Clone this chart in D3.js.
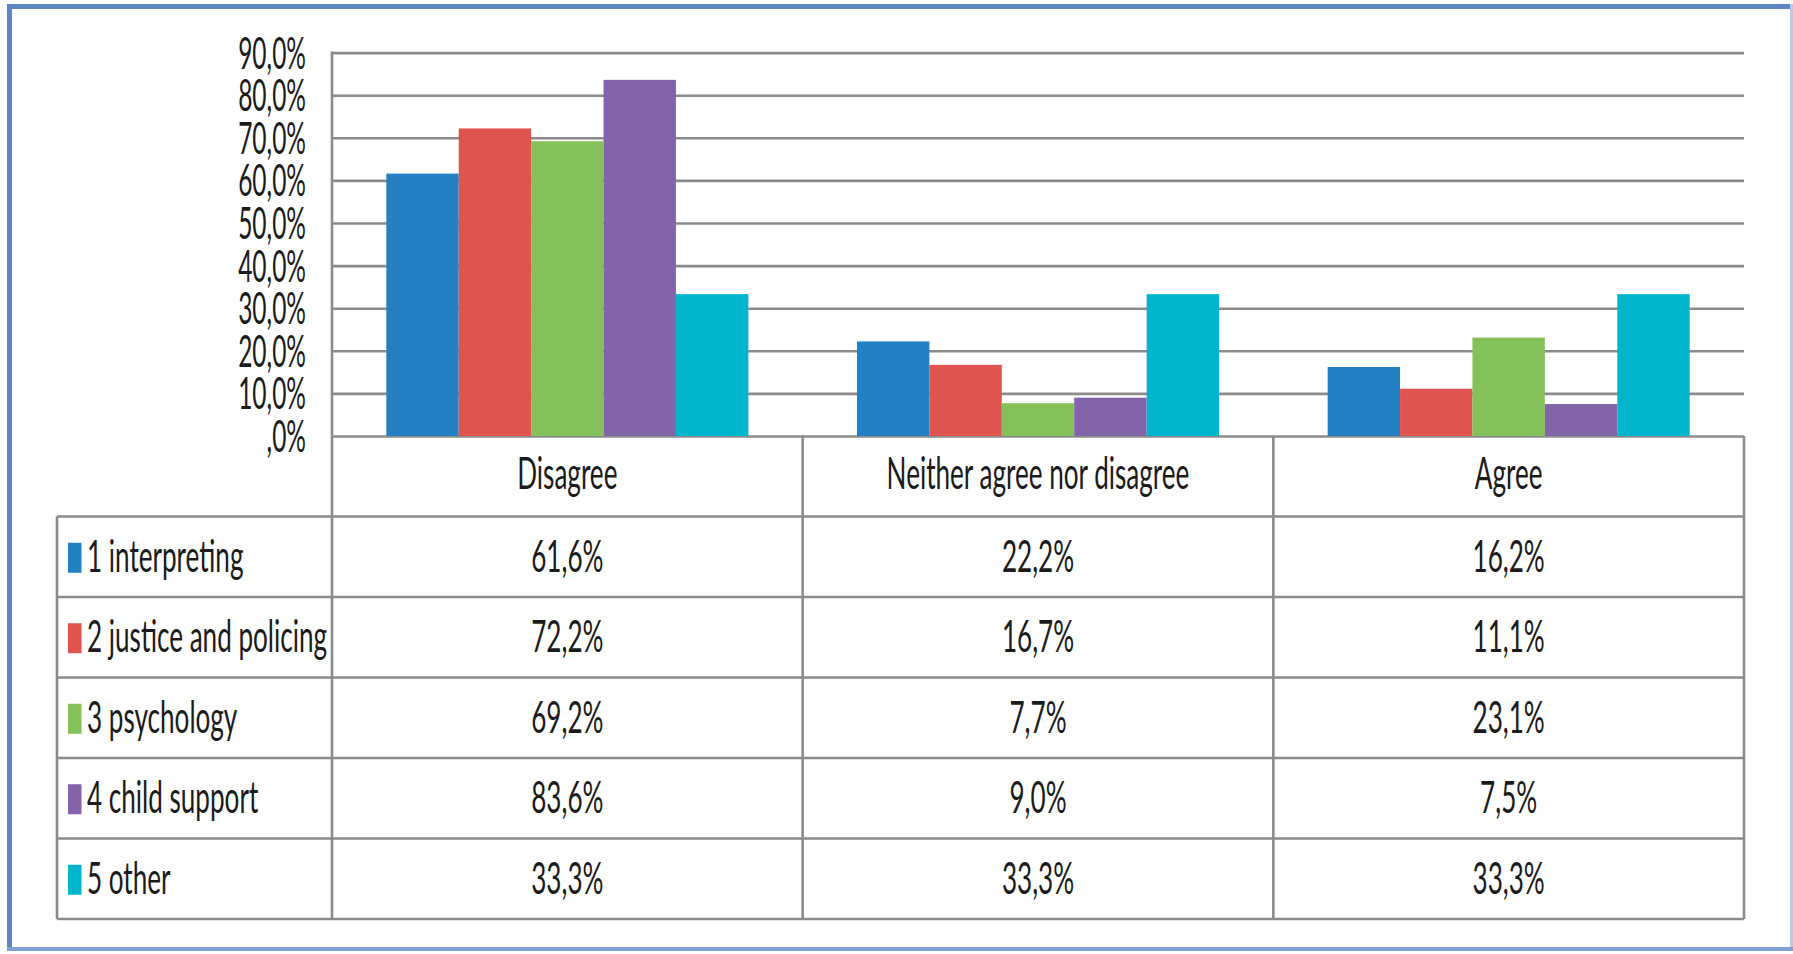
<!DOCTYPE html>
<html>
<head>
<meta charset="utf-8">
<script src="https://cdn.jsdelivr.net/npm/d3@7"></script>
<style>
  html, body { margin: 0; padding: 0; background: #fff; }
  svg { display: block; }
  text { font-family: Lato, "Open Sans", sans-serif; fill: #1b1b1b; }
</style>
</head>
<body>
<svg id="chart" width="1793" height="954"></svg>
<script>
// Response categories along the x axis
const categories = ["Disagree", "Neither agree nor disagree", "Agree"];

// Respondent groups (one bar per group inside each category)
const seriesNames = ["1 interpreting", "2 justice and policing", "3 psychology", "4 child support", "5 other"];
const seriesColors = ["#2381c3", "#e0544f", "#84c15a", "#8364aa", "#00b5cc"];

// Percentages per group: Disagree, Neither, Agree
const interpreting = [61.6, 22.2, 16.2];
const justicePolicing = [72.2, 16.7, 11.1];
const psychology = [69.2, 7.7, 23.1];
const childSupport = [83.6, 9.0, 7.5];
const other = [33.3, 33.3, 33.3];
const seriesValues = [interpreting, justicePolicing, psychology, childSupport, other];

// Y axis ticks and their labels
const yTicks = [0, 10, 20, 30, 40, 50, 60, 70, 80, 90];
const yTickLabels = [",0%", "10,0%", "20,0%", "30,0%", "40,0%", "50,0%", "60,0%", "70,0%", "80,0%", "90,0%"];

const fmt = v => v.toFixed(1).replace(".", ",") + "%";

const svg = d3.select("#chart");

// layout
const plotLeft = 332, plotRight = 1744, plotTop = 52.6, baseY = 436;
const tableLeft = 57, tableBottom = 919;
const fontSize = 45;
const sxAxis = 0.545;       // horizontal squeeze of the axis labels
const sxTable = 0.58;       // horizontal squeeze of the table text
const gridColor = "#8b8b8b";
const lineW = 2.6;

const x = d3.scaleBand().domain(categories).range([plotLeft, plotRight]).paddingInner(0).paddingOuter(0);
const xInner = d3.scaleBand().domain(seriesNames).range([0, x.bandwidth()]).paddingInner(0).paddingOuter(0.75);
const y = d3.scaleLinear().domain([0, 90]).range([baseY, plotTop]);

const rowKeys = ["header", ...seriesNames];
const rowScale = d3.scaleBand().domain(rowKeys).range([baseY, tableBottom]);

// frame around the figure
const frame = svg.append("g");
frame.append("line").attr("x1", 9.5).attr("x2", 9.5).attr("y1", 4).attr("y2", 950)
  .attr("stroke", "#5a86c4").attr("stroke-width", 5);
frame.append("line").attr("x1", 7).attr("x2", 1793).attr("y1", 6.5).attr("y2", 6.5)
  .attr("stroke", "#5a86c4").attr("stroke-width", 5);
frame.append("line").attr("x1", 1791.5).attr("x2", 1791.5).attr("y1", 4).attr("y2", 950)
  .attr("stroke", "#b9cbe4").attr("stroke-width", 3);
frame.append("line").attr("x1", 7).attr("x2", 1793).attr("y1", 949).attr("y2", 949)
  .attr("stroke", "#7fa0d0").attr("stroke-width", 4);

// gridlines + tick labels via the axis generator
const yAxis = d3.axisLeft(y)
  .tickValues(yTicks)
  .tickSize(-(plotRight - plotLeft))
  .tickPadding(26)
  .tickFormat((d, i) => yTickLabels[i]);

const axisG = svg.append("g").attr("transform", `translate(${plotLeft},0)`).call(yAxis);
axisG.select(".domain").remove();
axisG.selectAll(".tick line").attr("stroke", gridColor).attr("stroke-width", lineW);
axisG.selectAll(".tick text")
  .attr("x", null).attr("dy", null)
  .attr("text-anchor", "end")
  .attr("transform", `translate(-26,15.5) scale(${sxAxis},1)`)
  .style("font-family", "Lato, 'Open Sans', sans-serif")
  .style("font-size", fontSize + "px")
  .attr("fill", "#1b1b1b");

// bars
const groups = svg.append("g").selectAll("g.series")
  .data(seriesNames.map((name, i) => ({ name, color: seriesColors[i], values: seriesValues[i] })))
  .join("g").attr("class", "series").attr("fill", d => d.color);

groups.selectAll("rect")
  .data(d => categories.map((c, j) => ({ cat: c, name: d.name, v: d.values[j] })))
  .join("rect")
  .attr("x", d => x(d.cat) + xInner(d.name))
  .attr("width", xInner.bandwidth())
  .attr("y", d => y(d.v))
  .attr("height", d => y(0) - y(d.v));

// data table lines
const table = svg.append("g").attr("stroke", gridColor).attr("stroke-width", lineW);
seriesNames.forEach(k => {
  table.append("line").attr("x1", tableLeft).attr("x2", plotRight)
    .attr("y1", rowScale(k)).attr("y2", rowScale(k));
});
table.append("line").attr("x1", tableLeft).attr("x2", plotRight).attr("y1", tableBottom).attr("y2", tableBottom);
table.append("line").attr("x1", tableLeft).attr("x2", tableLeft).attr("y1", rowScale(seriesNames[0])).attr("y2", tableBottom);
table.append("line").attr("x1", plotLeft).attr("x2", plotLeft).attr("y1", plotTop - 1).attr("y2", tableBottom);
categories.slice(1).forEach(c => {
  table.append("line").attr("x1", x(c)).attr("x2", x(c)).attr("y1", baseY).attr("y2", tableBottom);
});
table.append("line").attr("x1", plotRight).attr("x2", plotRight).attr("y1", baseY).attr("y2", tableBottom);

// helper for squeezed text
function squeezedText(g, tx, ty, str, anchor) {
  g.append("text")
    .attr("transform", `translate(${tx},${ty}) scale(${sxTable},1)`)
    .attr("text-anchor", anchor)
    .style("font-size", fontSize + "px")
    .text(str);
}

const textG = svg.append("g");
const baseOff = 15;

// header row with category names
categories.forEach(c => {
  squeezedText(textG, x(c) + x.bandwidth() / 2, rowScale("header") + rowScale.bandwidth() / 2 + baseOff - 2.5, c, "middle");
});

// legend cells and values
seriesNames.forEach((name, i) => {
  const cy = rowScale(name) + rowScale.bandwidth() / 2;
  textG.append("rect").attr("x", 68).attr("y", cy - 14).attr("width", 13.5).attr("height", 30)
    .attr("fill", seriesColors[i]);
  squeezedText(textG, 87, cy + baseOff, name, "start");
  categories.forEach((c, j) => {
    squeezedText(textG, x(c) + x.bandwidth() / 2, cy + baseOff, fmt(seriesValues[i][j]), "middle");
  });
});
</script>
</body>
</html>
